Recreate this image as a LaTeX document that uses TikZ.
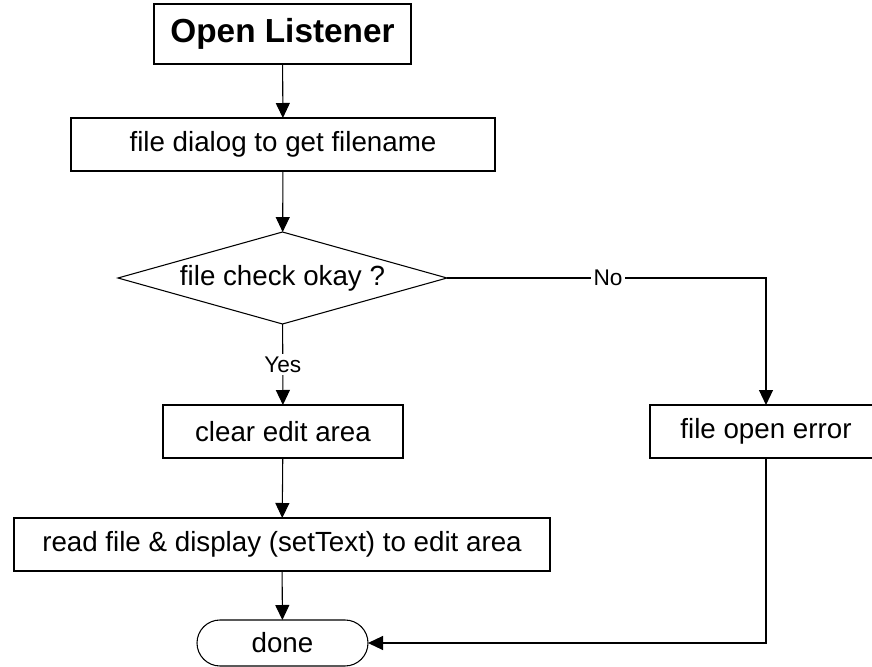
\documentclass[tikz,border=0pt]{standalone}
\usepackage{fontspec}
\setmainfont{Liberation Sans}
\usetikzlibrary{arrows.meta,shapes.geometric}

\begin{document}
\begin{tikzpicture}[
  x=0.75pt, y=-0.75pt,
  line width=0.8pt,
  every node/.style={inner sep=0pt, outer sep=0pt},
  boxtext/.style={font=\fontsize{20.8pt}{24pt}\selectfont},
  procbox/.style={draw, rectangle, boxtext, minimum height=39.75pt},
  titlebox/.style={draw, rectangle, font=\fontsize{25pt}{29pt}\selectfont\bfseries,
                   minimum width=192.75pt, minimum height=45pt},
  decision/.style={draw, diamond, boxtext, aspect=3.58,
                   minimum width=246.75pt, minimum height=69pt},
  terminal/.style={draw, rectangle, rounded corners=17.25pt, boxtext,
                   minimum width=128.25pt, minimum height=34.5pt},
  flow/.style={-{Triangle[length=11.25pt,width=10.5pt]}},
  branchlabel/.style={fill=white, inner sep=2pt, font=\fontsize{17pt}{20pt}\selectfont}
]
\useasboundingbox (0,0) rectangle (872,667);

% process steps
\node[titlebox] (open) at (282.5,34) {Open Listener};
\node[procbox, minimum width=318pt] (dialog) at (283,144.5) {file dialog to get filename};
\node[decision] (check) at (282.5,278) {file check okay ?};
\node[procbox, minimum width=180pt] (clear) at (283,431.5) {clear edit area};
\node[procbox, minimum width=174pt] (error) at (766,431.5) {file open error};
\node[procbox, minimum width=402pt] (read) at (282,544.5) {read file \& display (setText) to edit area};
\node[terminal] (done) at (282.5,643) {done};

% main flow
\draw[flow] (open) -- (dialog);
\draw[flow] (dialog) -- (check);
\draw[flow] (check) -- node[branchlabel] {Yes} (clear);
\draw[flow] (clear) -- (read);
\draw[flow] (read) -- (done);

% error branch
\coordinate (nocorner) at (error.north |- check.east);
\draw[flow] (check.east) -- node[branchlabel, pos=0.505] {No} (nocorner) -- (error.north);
\draw[flow] (error.south) |- (done.east);
\end{tikzpicture}
\end{document}
